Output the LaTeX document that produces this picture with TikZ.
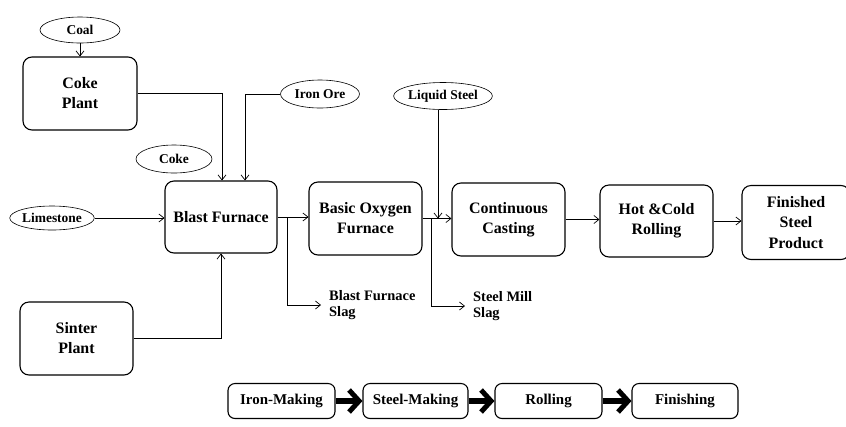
\documentclass[tikz,border=0pt]{standalone}
\usepackage{fontspec}
\setmainfont{Liberation Serif}
\usetikzlibrary{arrows.meta,shapes.geometric}
\begin{document}
\begin{tikzpicture}[x=1bp,y=-1bp,
 box/.style={draw, line width=1.1bp, rounded corners=9bp, align=center, inner sep=0pt,
   font=\fontsize{16}{20}\selectfont\bfseries},
 sbox/.style={draw, line width=1.1bp, rounded corners=7bp, align=center, inner sep=0pt,
   minimum height=35bp, font=\fontsize{15}{18}\selectfont\bfseries},
 oval/.style={draw, ellipse, line width=0.6bp, inner sep=0pt,
   font=\fontsize{13.5}{15}\selectfont\bfseries},
 slag/.style={anchor=west, align=left, inner xsep=8bp, inner ysep=0pt,
   font=\fontsize{14.5}{16}\selectfont\bfseries},
 conn/.style={line width=0.7bp, -{Straight Barb[length=5bp,width=8bp]}},
 big/.style={line width=5.5bp, -{Straight Barb[length=10bp,width=22bp,line width=5bp]}}
]
\useasboundingbox (0,0) rectangle (846,426);

% ovals
\node[oval, minimum width=80bp, minimum height=26bp] (coal) at (80,30) {Coal};
\node[oval, minimum width=79bp, minimum height=28bp] (ore) at (320,94) {Iron Ore};
\node[oval, minimum width=76bp, minimum height=28bp] (cokeo) at (174,159) {Coke};
\node[oval, minimum width=80bp, minimum height=24bp] (lime) at (52,218) {Limestone};
\node[oval, minimum width=93bp, minimum height=27bp] (ls) at (443,96) {Liquid Steel};

% boxes
\node[box, minimum width=114bp, minimum height=73bp] (coke) at (80,93.5) {Coke\\Plant};
\node[box, minimum width=112bp, minimum height=72bp] (bf) at (221,217) {Blast Furnace};
\node[box, minimum width=113bp, minimum height=73bp] (sinter) at (76.5,338.5) {Sinter\\Plant};
\node[box, minimum width=113bp, minimum height=73bp] (bof) at (365.5,218.5) {Basic Oxygen\\Furnace};
\node[box, minimum width=113bp, minimum height=73bp] (cc) at (508.5,219.5) {Continuous\\Casting};
\node[box, minimum width=113bp, minimum height=72bp] (hcr) at (656.5,221) {Hot \&Cold\\Rolling};
\node[box, minimum width=108bp, minimum height=74bp, font=\fontsize{16}{21}\selectfont\bfseries] (fsp) at (796,222.5) {Finished\\Steel\\Product};

% slag labels
\node[slag] (bfs) at (321,305) {Blast Furnace\\Slag};
\node[slag] (sms) at (465,306) {Steel Mill\\Slag};

% connectors
\draw[conn] (coal.south) -- (coal.south |- coke.north);
\draw[conn] (coke.east) -| ([xshift=1bp]bf.north);
\draw[conn] (ore.west) -| ([xshift=24bp]bf.north);
\draw[conn] (lime.east) -- (lime.east -| bf.west);
\draw[conn] (sinter.east) -| (bf.south);
\draw[conn] (bf.east) -- (bf.east -| bof.west);
\draw[conn] ([xshift=10bp]bf.east) |- (bfs.west);
\draw[conn] (bof.east) -- (bof.east -| cc.west);
\draw[conn] ([xshift=-5bp]ls.south) -- ([xshift=-5bp]ls.south |- bof.east);
\draw[conn] ([xshift=9bp]bof.east) |- (sms.west);
\draw[conn] (cc.east) -- (cc.east -| hcr.west);
\draw[conn] (hcr.east) -- (hcr.east -| fsp.west);

% bottom row
\node[sbox, minimum width=107bp] (im) at (281.5,401) {Iron-Making};
\node[sbox, minimum width=105bp] (sm) at (415.5,401) {Steel-Making};
\node[sbox, minimum width=107bp] (ro) at (548.5,401) {Rolling};
\node[sbox, minimum width=106bp] (fi) at (685,401) {Finishing};
\draw[big] (im.east) -- (sm.west);
\draw[big] (sm.east) -- (ro.west);
\draw[big] (ro.east) -- (fi.west);
\end{tikzpicture}
\end{document}
